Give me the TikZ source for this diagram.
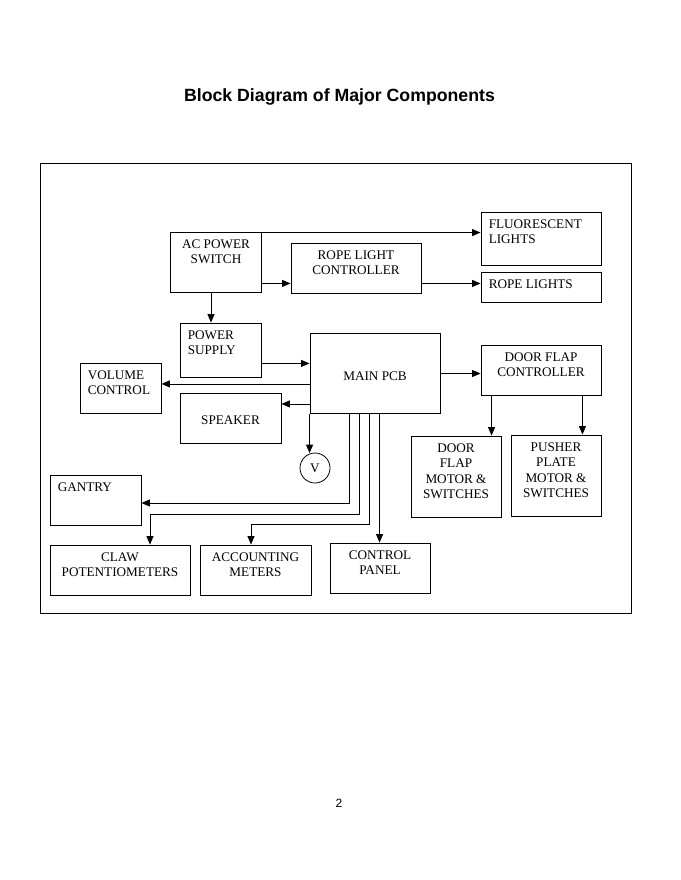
\documentclass[tikz,border=0pt]{standalone}
\usepackage{fontspec}
\setmainfont{Liberation Serif}
\newfontfamily\arialfont{Liberation Sans}
\usetikzlibrary{arrows.meta}
\tikzset{
  box/.style={draw, line width=0.9pt, rectangle, inner sep=0pt},
  tl/.style={anchor=north, align=center, inner sep=0pt, label distance=0pt, yshift=-7.9pt,
             font=\fontsize{13.2}{15.4}\selectfont},
  tlw/.style={anchor=north west, align=left, inner sep=0pt, label distance=0pt, yshift=-7.9pt, xshift=8pt,
             font=\fontsize{13.2}{15.4}\selectfont},
  arr/.style={draw, line width=0.9pt, -{Triangle[length=8.5pt,width=7pt]}},
  ln/.style={draw, line width=0.9pt}
}
\begin{document}
\begin{tikzpicture}[x=1pt,y=-1pt]
\useasboundingbox (0,0) rectangle (680,880);
% title and page number
\node[font=\arialfont\bfseries\fontsize{17.7}{20}\selectfont, anchor=base] (title) at (339.5,101.5) {Block Diagram of Major Components};
\node[font=\arialfont\fontsize{12}{14}\selectfont, anchor=base] (pnum) at (339,807) {2};
% frame
\node[box, minimum width=591pt, minimum height=450pt] (frame) at (335.5,388) {};
% boxes
\node[box, minimum width=91pt, minimum height=60pt, label={[tl]north:AC POWER\\SWITCH}] (ac) at (216,262) {};
\node[box, minimum width=120pt, minimum height=53pt, label={[tlw]north west:FLUORESCENT\\LIGHTS}] (fl) at (541,238.5) {};
\node[box, minimum width=130pt, minimum height=50pt, label={[tl]north:ROPE LIGHT\\CONTROLLER}] (rlc) at (356,268) {};
\node[box, minimum width=120pt, minimum height=30pt, label={[tlw]north west:ROPE LIGHTS}] (rl) at (541,287) {};
\node[box, minimum width=81pt, minimum height=54pt, label={[tlw]north west:POWER\\SUPPLY}] (ps) at (220.5,350) {};
\node[box, minimum width=130pt, minimum height=80pt, label={[tl,yshift=-31pt]north:MAIN PCB}] (main) at (375,373.5) {};
\node[box, minimum width=120pt, minimum height=50pt, label={[tl]north:DOOR FLAP\\CONTROLLER}] (dfc) at (541,370) {};
\node[box, minimum width=81pt, minimum height=50pt, label={[tlw]north west:VOLUME\\CONTROL}] (vol) at (120.5,388) {};
\node[box, minimum width=101pt, minimum height=50pt, label={[tl,yshift=-15.4pt]north:SPEAKER}] (spk) at (230.5,418) {};
\node[draw, line width=0.8pt, circle, minimum size=30pt, inner sep=0pt, font=\fontsize{13.2}{15.4}\selectfont] (V) at (315,468) {V};
\node[box, minimum width=91pt, minimum height=50pt, label={[tlw]north west:GANTRY}] (gantry) at (95.5,500) {};
\node[box, minimum width=140pt, minimum height=50pt, label={[tl]north:CLAW\\POTENTIOMETERS}] (claw) at (120,570) {};
\node[box, minimum width=111pt, minimum height=50pt, label={[tl]north:ACCOUNTING\\METERS}] (acc) at (255.5,570) {};
\node[box, minimum width=100pt, minimum height=50pt, label={[tl]north:CONTROL\\PANEL}] (cp) at (380,568) {};
\node[box, minimum width=90pt, minimum height=81pt, label={[tl]north:DOOR\\FLAP\\MOTOR \&\\SWITCHES}] (dfm) at (456,476.5) {};
\node[box, minimum width=90pt, minimum height=81pt, label={[tl]north:PUSHER\\PLATE\\MOTOR \&\\SWITCHES}] (pp) at (556,475.5) {};
% connector start coordinates
\coordinate (c1) at ([yshift=-1pt]ac.north east);
\coordinate (c2) at ([yshift=9pt]ac.south east);
\coordinate (c3) at ([yshift=10pt]rlc.south east);
\coordinate (c4) at ([xshift=-5pt]ac.south);
\coordinate (c5) at ([yshift=14pt]ps.south east);
\coordinate (c6) at ([yshift=30pt]main.south west);
\coordinate (c7) at ([yshift=10pt]main.south west);
\coordinate (c8) at ([xshift=40pt]main.south west);
\coordinate (c9) at ([xshift=50pt]main.south west);
\coordinate (c10) at ([xshift=60pt]main.south west);
\coordinate (c11) at ([xshift=70pt]main.south west);
\coordinate (c12) at ([xshift=11pt]dfc.south west);
\coordinate (c13) at ([xshift=-19pt]dfc.south east);
\coordinate (g) at ([yshift=-3pt]gantry.east);
% connectors
\draw[arr] (c1) -- (c1 -| fl.west);
\draw[arr] (c2) -- (c2 -| rlc.west);
\draw[arr] (c3) -- (c3 -| rl.west);
\draw[arr] (c4) -- (c4 |- ps.north);
\draw[arr] (c5) -- (c5 -| main.west);
\draw[arr] (main.east) -- (main.east -| dfc.west);
\draw[arr] (c6) -- (c6 -| vol.east);
\draw[arr] (c7) -- (c7 -| spk.east);
\draw[arr] (main.south west) -- ([yshift=-0.5pt]main.south west |- V.north);
\draw[arr] (c8) |- (g);
\draw[arr] (c9) -- ++(0,100) -| ([xshift=30pt]claw.north);
\draw[arr] (c10) -- ++(0,110) -| ([xshift=-4.5pt]acc.north);
\draw[arr] (c11) -- (c11 |- cp.north);
\draw[arr] (c12) -- (c12 |- dfm.north);
\draw[arr] (c13) -- (c13 |- pp.north);
\end{tikzpicture}
\end{document}
